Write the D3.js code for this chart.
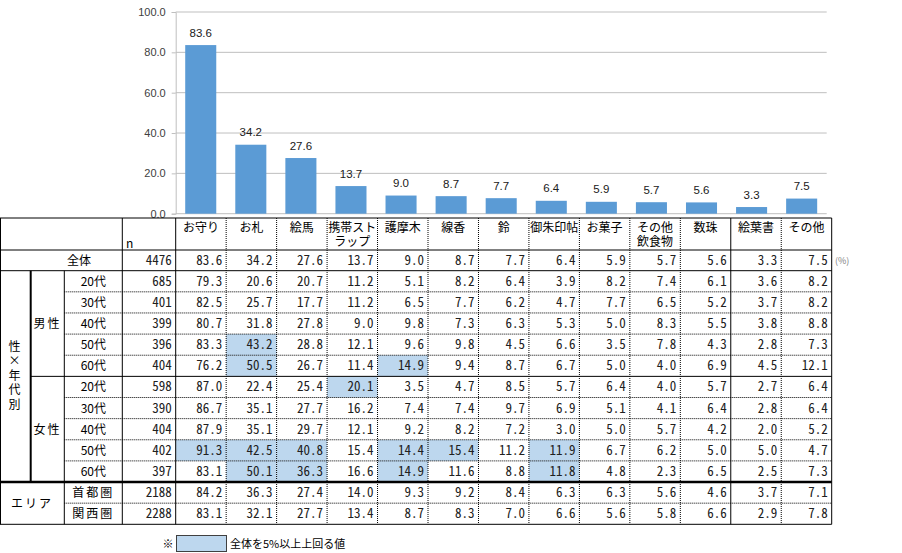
<!DOCTYPE html>
<html>
<head>
<meta charset="utf-8">
<script src="https://cdn.jsdelivr.net/npm/d3@7"></script>
<style>
  body { margin: 0; background: #fff; }
  svg { display: block; }
</style>
</head>
<body>
<div id="chart"></div>
<script>
// categories (bar chart + table columns)
const categories = ['お守り', 'お札', '絵馬', '携帯ストラップ', '護摩木', '線香', '鈴',
  '御朱印帖', 'お菓子', 'その他飲食物', '数珠', '絵葉書', 'その他'];
const headerLines = [['お守り'], ['お札'], ['絵馬'], ['携帯スト', 'ラップ'], ['護摩木'], ['線香'], ['鈴'],
  ['御朱印帖'], ['お菓子'], ['その他', '飲食物'], ['数珠'], ['絵葉書'], ['その他']];

// 全体
const totalN = 4476;
const totalValues = [83.6, 34.2, 27.6, 13.7, 9.0, 8.7, 7.7, 6.4, 5.9, 5.7, 5.6, 3.3, 7.5];

// 性×年代別
const ages = ['20代', '30代', '40代', '50代', '60代'];
const maleN = [685, 401, 399, 396, 404];
const maleValues = [
  [79.3, 20.6, 20.7, 11.2, 5.1, 8.2, 6.4, 3.9, 8.2, 7.4, 6.1, 3.6, 8.2],
  [82.5, 25.7, 17.7, 11.2, 6.5, 7.7, 6.2, 4.7, 7.7, 6.5, 5.2, 3.7, 8.2],
  [80.7, 31.8, 27.8, 9.0, 9.8, 7.3, 6.3, 5.3, 5.0, 8.3, 5.5, 3.8, 8.8],
  [83.3, 43.2, 28.8, 12.1, 9.6, 9.8, 4.5, 6.6, 3.5, 7.8, 4.3, 2.8, 7.3],
  [76.2, 50.5, 26.7, 11.4, 14.9, 9.4, 8.7, 6.7, 5.0, 4.0, 6.9, 4.5, 12.1],
];
const femaleN = [598, 390, 404, 402, 397];
const femaleValues = [
  [87.0, 22.4, 25.4, 20.1, 3.5, 4.7, 8.5, 5.7, 6.4, 4.0, 5.7, 2.7, 6.4],
  [86.7, 35.1, 27.7, 16.2, 7.4, 7.4, 9.7, 6.9, 5.1, 4.1, 6.4, 2.8, 6.4],
  [87.9, 35.1, 29.7, 12.1, 9.2, 8.2, 7.2, 3.0, 5.0, 5.7, 4.2, 2.0, 5.2],
  [91.3, 42.5, 40.8, 15.4, 14.4, 15.4, 11.2, 11.9, 6.7, 6.2, 5.0, 5.0, 4.7],
  [83.1, 50.1, 36.3, 16.6, 14.9, 11.6, 8.8, 11.8, 4.8, 2.3, 6.5, 2.5, 7.3],
];

// エリア
const areas = ['首都圏', '関西圏'];
const areaN = [2188, 2288];
const areaValues = [
  [84.2, 36.3, 27.4, 14.0, 9.3, 9.2, 8.4, 6.3, 6.3, 5.6, 4.6, 3.7, 7.1],
  [83.1, 32.1, 27.7, 13.4, 8.7, 8.3, 7.0, 6.6, 5.6, 5.8, 6.6, 2.9, 7.8],
];

const yTicks = [0, 20, 40, 60, 80, 100];

const W = 902, H = 553;
const jp = '"Noto Sans CJK JP", "Noto Sans", sans-serif';
const jpTight = '"Liberation Sans", "Noto Sans CJK JP", sans-serif';
const num = '"Noto Sans Mono CJK JP", "DejaVu Sans Mono", monospace';
const hiFill = '#bdd7ee';

const svg = d3.select('#chart').append('svg')
  .attr('width', W).attr('height', H);

// ---------- bar chart ----------
const x = d3.scaleBand()
  .domain(categories)
  .range([175.7, 826.7])
  .paddingInner(0.38)
  .paddingOuter(0.19);

const y = d3.scaleLinear().domain([0, 100]).range([213.7, 12]);

// gridlines
svg.append('g')
  .selectAll('line')
  .data(yTicks.filter(d => d > 0))
  .join('line')
  .attr('x1', 175.7).attr('x2', 826.7)
  .attr('y1', d => y(d)).attr('y2', d => y(d))
  .attr('stroke', '#bfbfbf');

const yAxis = svg.append('g')
  .attr('transform', 'translate(175.7,0)')
  .call(d3.axisLeft(y).tickValues(yTicks).tickFormat(d3.format('.1f')).tickSize(4).tickPadding(6));
yAxis.select('.domain').attr('stroke', '#bfbfbf');
yAxis.selectAll('.tick line').attr('stroke', '#bfbfbf');
yAxis.selectAll('text')
  .style('font-family', '"Liberation Sans", "Noto Sans", sans-serif')
  .style('font-size', '11px')
  .attr('fill', '#404040');

svg.append('line')
  .attr('x1', 175.7).attr('x2', 826.7)
  .attr('y1', y(0)).attr('y2', y(0))
  .attr('stroke', '#bfbfbf');

svg.append('g')
  .selectAll('rect')
  .data(totalValues)
  .join('rect')
  .attr('x', (d, i) => x(categories[i]))
  .attr('y', d => y(d))
  .attr('width', x.bandwidth())
  .attr('height', d => y(0) - y(d))
  .attr('fill', '#5b9bd5');

svg.append('g')
  .selectAll('text')
  .data(totalValues)
  .join('text')
  .attr('x', (d, i) => x(categories[i]) + x.bandwidth() / 2)
  .attr('y', d => y(d) - 8.5)
  .attr('text-anchor', 'middle')
  .style('font-family', '"Liberation Sans", "Noto Sans", sans-serif')
  .style('font-size', '11.5px')
  .attr('fill', '#202020')
  .text(d => d.toFixed(1));

// ---------- table ----------
const col = d3.scaleBand().domain(categories).range([175.7, 831.7]);
const tableTop = 218, headBottom = 250, totalBottom = 270.7, tableBottom = 524.3;

const rows = [];
ages.forEach((a, i) => rows.push({ group: 'male', label: a, n: maleN[i], values: maleValues[i] }));
ages.forEach((a, i) => rows.push({ group: 'female', label: a, n: femaleN[i], values: femaleValues[i] }));
areas.forEach((a, i) => rows.push({ group: 'area', label: a, n: areaN[i], values: areaValues[i] }));

const row = d3.scaleBand().domain(d3.range(rows.length)).range([totalBottom, tableBottom]);
const rh = row.bandwidth();

const table = svg.append('g');

// highlight cells (value at least 5 points above 全体)
rows.forEach((r, ri) => {
  r.values.forEach((v, ci) => {
    if (v >= totalValues[ci] + 5) {
      table.append('rect')
        .attr('x', col(categories[ci]))
        .attr('y', row(ri))
        .attr('width', col.bandwidth())
        .attr('height', rh)
        .attr('fill', hiFill);
    }
  });
});

// header texts
headerLines.forEach((lines, ci) => {
  const cx = col(categories[ci]) + col.bandwidth() / 2;
  lines.forEach((s, li) => {
    table.append('text')
      .attr('x', cx)
      .attr('y', 231.5 + li * 14)
      .attr('text-anchor', 'middle')
      .style('font-family', lines.length > 1 ? jpTight : jp)
      .style('font-size', '12px')
      .text(s);
  });
});
table.append('text')
  .attr('x', 126).attr('y', 247.5)
  .style('font-family', jp).style('font-size', '12px')
  .text('n');

// 全体 row
const totalMid = (headBottom + totalBottom) / 2;
table.append('text')
  .attr('x', 79).attr('y', totalMid + 4.5)
  .attr('text-anchor', 'middle')
  .style('font-family', jp).style('font-size', '12px')
  .text('全体');
function numText(xr, yc, v) {
  table.append('text')
    .attr('x', xr).attr('y', yc + 4.5)
    .attr('text-anchor', 'end')
    .style('font-family', num).style('font-size', '13px')
    .attr('fill', '#202020')
    .text(v);
}
numText(171.7, totalMid, totalN);
totalValues.forEach((v, ci) => numText(col(categories[ci]) + col.bandwidth() - 4, totalMid, v.toFixed(1)));
table.append('text')
  .attr('x', 835).attr('y', totalMid + 3.5)
  .style('font-family', jp).style('font-size', '9px')
  .attr('fill', '#808080')
  .text('(%)');

// body rows
rows.forEach((r, ri) => {
  const yc = row(ri) + rh / 2;
  table.append('text')
    .attr('x', 93.3).attr('y', yc + 4.5)
    .attr('text-anchor', 'middle')
    .style('font-family', jp).style('font-size', '12px')
    .attr('letter-spacing', r.group === 'area' ? '2px' : '0px')
    .text(r.label);
  numText(171.7, yc, r.n);
  r.values.forEach((v, ci) => numText(col(categories[ci]) + col.bandwidth() - 4, yc, v.toFixed(1)));
});

// group labels
const maleMid = (row(0) + row(4) + rh) / 2;
const femaleMid = (row(5) + row(9) + rh) / 2;
const areaMid = (row(10) + row(11) + rh) / 2;
[['男性', maleMid], ['女性', femaleMid]].forEach(([t, yc]) => {
  table.append('text')
    .attr('x', 47.5).attr('y', yc + 4.5)
    .attr('text-anchor', 'middle')
    .attr('letter-spacing', '2px')
    .style('font-family', jp).style('font-size', '12px')
    .text(t);
});
table.append('text')
  .attr('x', 32).attr('y', areaMid + 4.5)
  .attr('text-anchor', 'middle')
  .attr('letter-spacing', '2px')
  .style('font-family', jp).style('font-size', '12px')
  .text('エリア');

// vertical label 性×年代別 (one text, vertical writing)
const sectionMid = (row(0) + row(9) + rh) / 2;
table.append('text')
  .attr('x', 14.5)
  .attr('y', sectionMid)
  .attr('text-anchor', 'middle')
  .style('writing-mode', 'vertical-rl')
  .style('text-orientation', 'upright')
  .attr('letter-spacing', '2.5px')
  .style('font-family', jp).style('font-size', '12px')
  .text('性×年代別');

// lines
function hline(x1, x2, yy, w, dash) {
  table.append('line')
    .attr('x1', x1).attr('x2', x2).attr('y1', yy).attr('y2', yy)
    .attr('stroke', '#000').attr('stroke-width', w || 1)
    .attr('stroke-dasharray', dash ? '1,1' : null);
}
function vline(xx, y1, y2, w, dash) {
  table.append('line')
    .attr('x1', xx).attr('x2', xx).attr('y1', y1).attr('y2', y2)
    .attr('stroke', '#000').attr('stroke-width', w || 1)
    .attr('stroke-dasharray', dash ? '1,1' : null);
}
const right = 831.7;
hline(0, right, tableTop);
hline(0, right, headBottom);
hline(0, right, totalBottom);
hline(0, right, row(10), 2.5);
hline(0, right, tableBottom);
hline(30.7, right, row(5));
[1, 2, 3, 4, 6, 7, 8, 9, 11].forEach(i => hline(64.3, right, row(i), 1, true));

vline(0.5, tableTop, tableBottom);
vline(30.7, totalBottom, row(10), 2);
vline(64.3, totalBottom, tableBottom);
vline(122.3, tableTop, tableBottom);
vline(175.7, tableTop, tableBottom);
categories.forEach((c, ci) => {
  const xr = col(c) + col.bandwidth();
  if (ci === categories.length - 1) vline(xr, tableTop, tableBottom);
  else if (c === '数珠') vline(xr, tableTop, tableBottom);
  else vline(xr, tableTop, tableBottom, 1, true);
});

// legend
svg.append('text')
  .attr('x', 168).attr('y', 548)
  .attr('text-anchor', 'middle')
  .style('font-family', jp).style('font-size', '11px')
  .text('※');
svg.append('rect')
  .attr('x', 176.5).attr('y', 535.5)
  .attr('width', 50).attr('height', 16)
  .attr('fill', hiFill).attr('stroke', '#404040');
svg.append('text')
  .attr('x', 230).attr('y', 548)
  .style('font-family', jp).style('font-size', '11px')
  .text('全体を5%以上上回る値');
</script>
</body>
</html>
